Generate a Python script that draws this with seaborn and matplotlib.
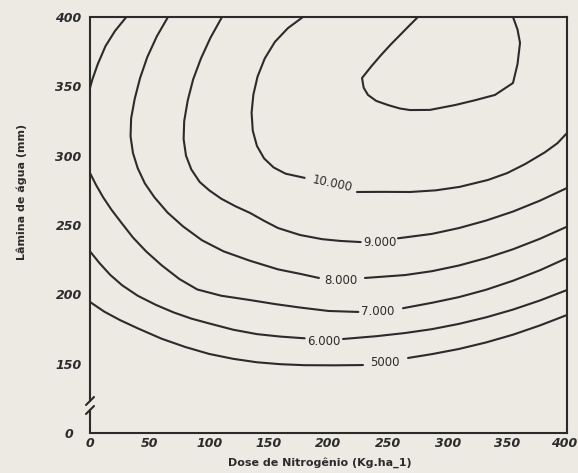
import numpy as np
import pandas as pd
import matplotlib
matplotlib.use('Agg')
import matplotlib.pyplot as plt
import matplotlib.transforms as mtransforms
import seaborn as sns

# Eixos (lamina com quebra: o "0" fica na posicao de 100 mm)
x_ticks = [0, 50, 100, 150, 200, 250, 300, 350, 400]
y_ticks = [100, 150, 200, 250, 300, 350, 400]
y_tick_labels = ['0', '150', '200', '250', '300', '350', '400']

# Isolinhas de produtividade (dose N em kg/ha, lamina W em mm)
# cada isolinha partida onde fica o rotulo
n_5000_a = [0, 12, 25, 40, 60, 80, 100, 120, 140, 160, 180, 205, 228.9]
w_5000_a = [194.5, 187.5, 181.5, 175.5, 168.0, 162.0, 157.0, 153.5, 151.0, 149.6, 148.9, 148.8, 149.0]
n_5000_b = [266.7, 286.8, 309.4, 332.1, 354.7, 377.4, 400]
w_5000_b = [154.1, 156.9, 160.6, 165.3, 170.9, 177.6, 185.1]

n_6000_a = [0, 8, 17, 27, 40, 55, 70, 85, 100, 120, 140, 160, 180]
w_6000_a = [231.0, 222.5, 214.0, 206.5, 199.0, 192.5, 187.0, 182.5, 179.0, 174.5, 171.3, 169.5, 168.3]
n_6000_b = [212.2, 240.0, 264.2, 286.8, 309.4, 332.1, 354.7, 377.4, 400]
w_6000_b = [167.8, 169.8, 172.1, 174.9, 178.7, 183.4, 189.0, 195.6, 203.1]

n_7000_top = [30.5, 21, 13, 6.5, 2, 0]
w_7000_top = [400, 390.0, 379.0, 366.0, 355.0, 348.8]
n_7000_a = [0, 5, 11, 18, 26, 36, 47, 60, 75, 90, 110, 134, 155, 176, 200, 225]
w_7000_a = [287.5, 279.0, 270.0, 261.0, 252.0, 241.0, 231.0, 221.0, 211.0, 203.5, 199.0, 195.9,
            193.0, 190.5, 188.0, 187.3]
n_7000_b = [262.5, 286.8, 309.4, 332.1, 354.7, 377.4, 400]
w_7000_b = [190.0, 193.9, 198.0, 203.3, 209.8, 217.4, 226.2]

n_8000_a = [65.4, 56, 48, 42, 37.5, 34.5, 34, 36, 40, 46, 54, 65, 78, 93.9, 112, 134.2, 157.7,
            176.1, 192.0]
w_8000_a = [400, 386.0, 371.0, 356.0, 341.0, 327.0, 314.0, 302.0, 291.0, 280.0, 270.0, 259.0,
            249.0, 239.0, 231.0, 224.2, 218.0, 214.8, 211.8]
n_8000_b = [230.6, 264.2, 286.8, 309.4, 332.1, 354.7, 377.4, 400]
w_8000_b = [211.8, 213.9, 216.7, 220.8, 226.1, 232.5, 240.1, 248.8]

n_9000_a = [110.7, 101, 93, 86.5, 82, 79, 78.5, 80.5, 85, 92, 100, 110, 122, 134.2, 146, 157.7,
            176.1, 194.6, 210, 227.0]
w_9000_a = [400, 385.0, 370.0, 355.0, 340.0, 325.0, 312.0, 300.0, 290.0, 281.0, 275.0, 269.0,
            263.5, 258.7, 253.0, 247.8, 242.8, 239.8, 238.5, 237.7]
n_9000_b = [258.3, 286.8, 309.4, 332.1, 354.7, 377.4, 400]
w_9000_b = [240.4, 243.6, 247.8, 253.2, 259.7, 267.6, 276.7]

n_10000_a = [178.6, 166, 155, 146.5, 140.5, 137, 135.5, 136.5, 140, 146, 154, 164, 180]
w_10000_a = [400, 392.0, 382.0, 370.0, 357.0, 344.0, 331.0, 318.0, 307.0, 298.0, 291.5, 287.0, 284.0]
n_10000_b = [223.9, 245, 268.4, 290, 310, 333.8, 350, 365, 381.6, 392, 400]
w_10000_b = [273.8, 273.9, 273.8, 275.0, 277.5, 282.5, 287.5, 294.0, 302.5, 309.0, 316.3]

# isolinha interna (sem rotulo)
n_inner = [275, 268, 260, 252, 244, 236, 228.1, 229.5, 233.1, 240, 249.9, 260, 268.4, 285, 306.1,
           323, 339.6, 354.7, 358.5, 360.6, 358.5, 354.7]
w_inner = [400, 394.0, 387.0, 380.0, 372.5, 364.5, 356.0, 349.0, 343.8, 339.5, 336.5, 334.0, 332.9,
           333.0, 336.5, 340.0, 343.8, 352.4, 366.0, 381.3, 391.0, 400]

# rotulos das isolinhas
lbl_text = ['10.000', '9.000', '8.000', '7.000', '6.000', '5000']
lbl_n = [202.9, 243.2, 210.5, 241.5, 196.2, 247.4]
lbl_w = [279.9, 237.7, 210.3, 187.3, 166.3, 151.2]
lbl_rot = [-12, 0, 0, 0, 0, 0]

segmentos = {
    '5000a': (n_5000_a, w_5000_a), '5000b': (n_5000_b, w_5000_b),
    '6000a': (n_6000_a, w_6000_a), '6000b': (n_6000_b, w_6000_b),
    '7000t': (n_7000_top, w_7000_top),
    '7000a': (n_7000_a, w_7000_a), '7000b': (n_7000_b, w_7000_b),
    '8000a': (n_8000_a, w_8000_a), '8000b': (n_8000_b, w_8000_b),
    '9000a': (n_9000_a, w_9000_a), '9000b': (n_9000_b, w_9000_b),
    '10000a': (n_10000_a, w_10000_a), '10000b': (n_10000_b, w_10000_b),
    'inner': (n_inner, w_inner),
}
df = pd.concat([pd.DataFrame({'N': n, 'W': w, 'seg': k}) for k, (n, w) in segmentos.items()],
               ignore_index=True)

papel = '#edeae3'
tinta = '#2b2b2b'

sns.set_theme(style='white', rc={'axes.facecolor': papel, 'figure.facecolor': papel,
                                 'axes.edgecolor': tinta, 'text.color': tinta,
                                 'xtick.color': tinta, 'ytick.color': tinta})
plt.rcParams['font.family'] = ['DejaVu Sans']

fig = plt.figure(figsize=(5.78, 4.73), dpi=100)
ax = fig.add_axes([90/578, 40/473, 477/578, 416/473])

sns.lineplot(data=df, x='N', y='W', units='seg', estimator=None, sort=False,
             color=tinta, lw=1.5, ax=ax, legend=False)
for ln in ax.get_lines():
    ln.set_solid_joinstyle('round')
    ln.set_solid_capstyle('round')

for t, n, w, r in zip(lbl_text, lbl_n, lbl_w, lbl_rot):
    ax.text(n, w, t, ha='center', va='center', rotation=r, fontsize=8.5, color=tinta)

ax.set_xlim(0, 400)
ax.set_ylim(100, 400)
ax.set_xticks(x_ticks)
ax.set_xticklabels([str(v) for v in x_ticks])
ax.set_yticks(y_ticks)
ax.set_yticklabels(y_tick_labels)
ax.tick_params(direction='in', length=6, width=1.3, labelsize=9)
ax.tick_params(axis='x', pad=3)
ax.tick_params(axis='y', pad=6)
for lb in ax.get_xticklabels() + ax.get_yticklabels():
    lb.set_fontweight('bold')
    lb.set_fontstyle('italic')

# "0" do eixo vertical um pouco mais afastado, "400" do eixo x recolhido para dentro
lb0 = ax.get_yticklabels()[0]
lb0.set_transform(lb0.get_transform() + mtransforms.ScaledTranslation(-8/100, 0, fig.dpi_scale_trans))
lb400 = ax.get_xticklabels()[-1]
lb400.set_transform(lb400.get_transform() + mtransforms.ScaledTranslation(-3/100, 0, fig.dpi_scale_trans))

for s in ['top', 'right', 'bottom']:
    ax.spines[s].set_linewidth(1.5)
ax.spines['left'].set_visible(False)

# eixo vertical com quebra
kw = dict(transform=ax.transAxes, color=tinta, lw=1.5, clip_on=False)
ax.plot([0, 0], [0, 0.0553], **kw)
ax.plot([0, 0], [0.0769, 1], **kw)
ax.plot([-0.0084, 0.0084], [0.0457, 0.0649], **kw)
ax.plot([-0.0084, 0.0084], [0.0673, 0.0865], **kw)

ax.set_xlabel('')
ax.set_ylabel('')
fig.text(320/578, 1 - 463/473, 'Dose de Nitrogênio (Kg.ha_1)', ha='center', va='center',
         fontsize=8, fontweight='bold', color=tinta)
fig.text(22/578, 1 - 192/473, 'Lâmina de água (mm)', ha='center', va='center',
         rotation=90, fontsize=8, fontweight='bold', color=tinta)

fig.savefig('out.png', dpi=100, facecolor=papel)
